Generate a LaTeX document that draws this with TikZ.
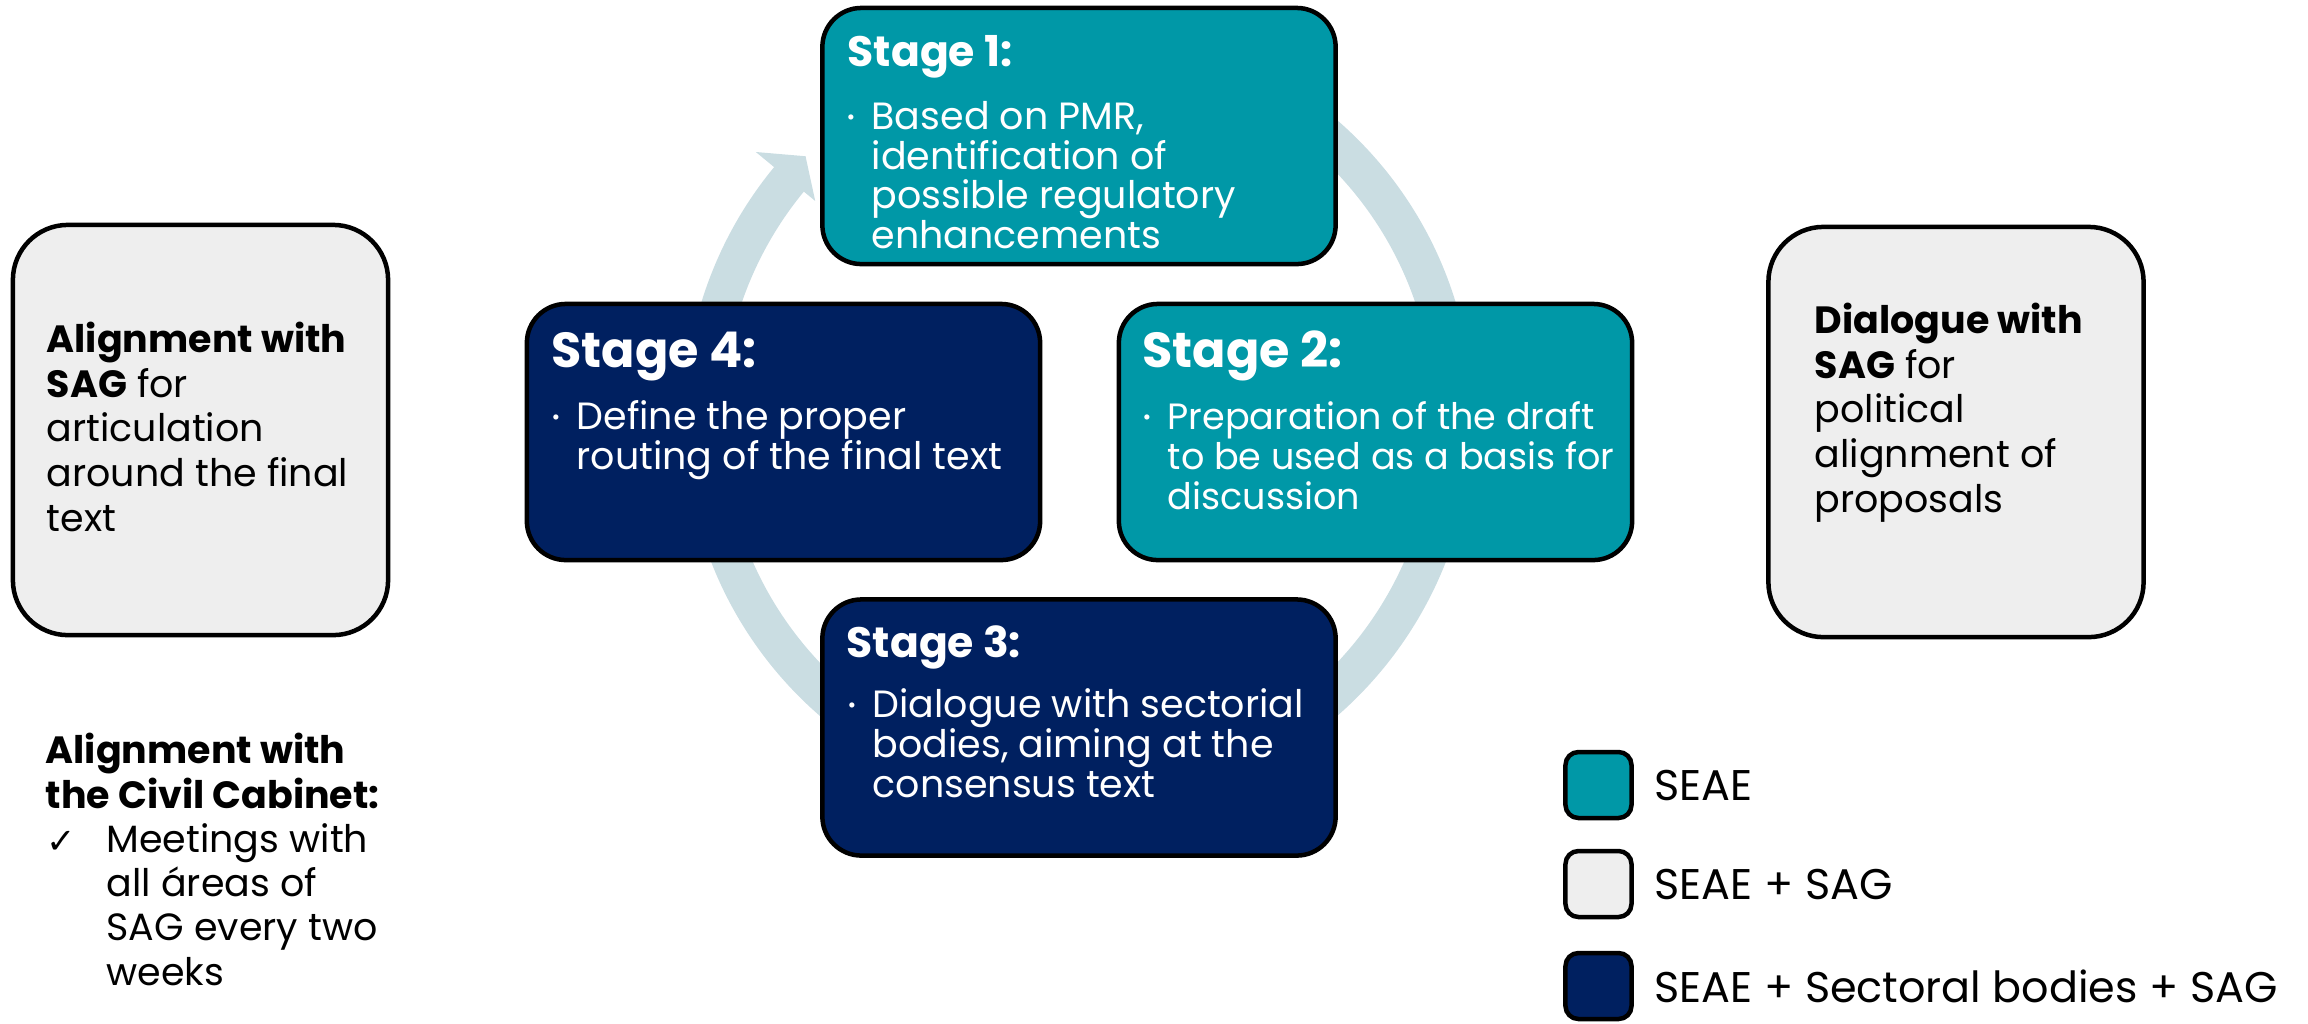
\documentclass[tikz,border=0pt]{standalone}
\usepackage{fontspec}
\setmainfont{Poppins}
\newfontfamily\symfont{DejaVu Sans}
\usetikzlibrary{calc}
\definecolor{tealc}{RGB}{0,152,167}
\definecolor{navyc}{RGB}{0,32,96}
\definecolor{greyc}{RGB}{238,238,238}
\definecolor{ringc}{RGB}{202,221,226}
\begin{document}
\begin{tikzpicture}[x=0.01cm,y=0.01cm,
  stagebox/.style={draw=black, line width=0.45mm, rounded corners=3.9mm,
    minimum width=5.13cm, minimum height=2.56cm, inner sep=0pt},
  greybox/.style={draw=black, fill=greyc, line width=0.45mm, rounded corners=5.5mm,
    minimum width=3.75cm, minimum height=4.1cm, inner sep=0pt},
  legbox/.style={draw=black, line width=0.45mm, rounded corners=1.3mm,
    minimum width=0.66cm, minimum height=0.66cm, inner sep=0pt},
  hdrsmall/.style={text=white, inner sep=0pt, anchor=base west,
    font=\bfseries\fontsize{12.1}{14}\selectfont},
  hdrbig/.style={text=white, inner sep=0pt, anchor=base west,
    font=\bfseries\fontsize{14}{16}\selectfont},
  bodytext/.style={text=white, inner sep=0pt, anchor=base west, align=left,
    font=\fontsize{10.8}{11.24}\selectfont},
  bul/.style={text=white, inner sep=0pt, anchor=center,
    font=\fontsize{6}{6}\selectfont},
  sidetext/.style={text=black, inner sep=0pt, anchor=base west, align=left,
    font=\fontsize{10.8}{12.66}\selectfont},
  legtext/.style={text=black, inner sep=0pt, anchor=base west,
    font=\fontsize{12.2}{14}\selectfont}
]
\useasboundingbox (0,0) rectangle (2308,-1023);

% circular arrow
\coordinate (c) at (1078.5,-418);
\draw[ringc, line width=3.85mm] ($(c)+(100:3.75cm)$) arc[start angle=100, end angle=-220, radius=3.75cm];
\fill[ringc] ($(c)+(140.5:3.41cm)$) -- ($(c)+(140.5:4.18cm)$) -- ($(c)+(136.2:3.78cm)$) -- cycle;

% stage boxes
\node[stagebox, fill=tealc] (s1) at (1079,-136) {};
\node[stagebox, fill=navyc] (s4) at (783.5,-432) {};
\node[stagebox, fill=tealc] (s2) at (1375.5,-432) {};
\node[stagebox, fill=navyc] (s3) at (1079,-727.5) {};

% side boxes
\node[greybox] (gl) at (200.5,-430) {};
\node[greybox] (gr) at (1956,-432) {};

% stage texts (anchors at the baseline of the last line)
\node[hdrsmall] (s1h) at (847,-66) {Stage 1:};
\node[bul] (s1b) at (851,-120) {•};
\node[bodytext] (s1t) at (871,-248.5) {Based on PMR,\\identification of\\possible regulatory\\enhancements};

\node[hdrbig] (s4h) at (551,-367) {Stage 4:};
\node[bul] (s4b) at (556,-420) {•};
\node[bodytext] (s4t) at (576,-469.5) {Define the proper\\routing of the final text};

\node[hdrbig] (s2h) at (1142,-367) {Stage 2:};
\node[bul] (s2b) at (1147,-420) {•};
\node[bodytext, font=\fontsize{10.4}{11.24}\selectfont] (s2t) at (1167,-509) {Preparation of the draft\\to be used as a basis for\\discussion};

\node[hdrsmall] (s3h) at (846,-657) {Stage 3:};
\node[bul] (s3b) at (852,-708) {•};
\node[bodytext] (s3t) at (872,-797) {Dialogue with sectorial\\bodies, aiming at the\\consensus text};

% side texts
\node[sidetext] (glt) at (46,-531) {\textbf{Alignment with}\\\textbf{SAG} for\\articulation\\around the final\\text};
\node[sidetext] (grt) at (1814,-512) {\textbf{Dialogue with}\\\textbf{SAG} for\\political\\alignment of\\proposals};

% civil cabinet note
\node[sidetext, font=\bfseries\fontsize{10.8}{12.8}\selectfont] (cc) at (45,-808) {Alignment with\\the Civil Cabinet:};
\node[sidetext, font=\symfont\fontsize{10}{11}\selectfont] (ck) at (46,-853) {✓};
\node[sidetext, font=\fontsize{10.8}{12.52}\selectfont] (cct) at (106,-985) {Meetings with\\all áreas of\\SAG every two\\weeks};

% legend
\node[legbox, fill=tealc] (l1) at (1598.5,-785) {};
\node[legbox, fill=greyc] (l2) at (1598.5,-884) {};
\node[legbox, fill=navyc] (l3) at (1598.5,-986) {};
\node[legtext] (l1t) at (1654,-800) {SEAE};
\node[legtext] (l2t) at (1654,-899) {SEAE + SAG};
\node[legtext] (l3t) at (1654,-1002) {SEAE + Sectoral bodies + SAG};
\end{tikzpicture}
\end{document}
